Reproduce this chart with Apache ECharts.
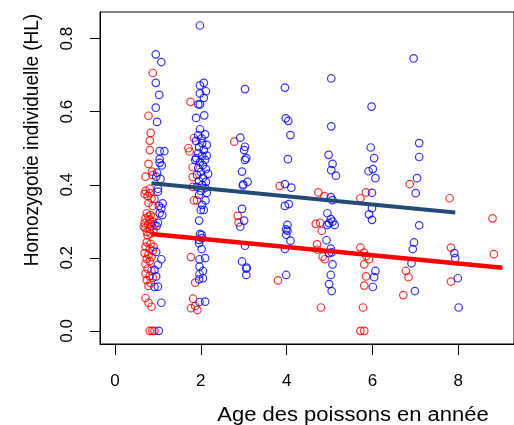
<!DOCTYPE html>
<html><head><meta charset="utf-8">
<script src="https://cdn.jsdelivr.net/npm/echarts@6/dist/echarts.min.js"></script>
<style>html,body{margin:0;padding:0;background:#fff}#c{width:514px;height:425px}</style>
</head><body><div id="c"></div>
<script>
const xTicks = [0, 2, 4, 6, 8];
const yTicks = [0, 0.2, 0.4, 0.6, 0.8];
const xTitle = 'Age des poissons en année';
const yTitle = 'Homozygotie individuelle (HL)';

const redX = [
0.88,0.78,0.83,0.81,0.81,0.78,0.86,0.71,0.88,0.81,0.71,0.81,0.76,0.85,0.69,0.92,0.78,0.88,
0.74,0.83,0.90,0.71,0.81,0.88,0.69,0.78,0.85,0.71,0.81,0.90,0.74,0.83,0.76,0.67,0.92,0.78,
0.74,0.83,0.71,0.81,0.88,0.69,0.78,0.85,0.74,0.81,0.71,0.90,
0.76,0.85,0.71,0.81,0.88,0.74,0.83,0.78,0.71,0.78,0.85,0.81,0.87,0.92,
1.76,1.84,1.71,1.74,1.81,1.81,1.81,1.84,1.91,1.77,1.87,1.82,1.77,1.87,1.92,
2.78,2.86,2.88,
3.84,3.80,
4.74,4.88,4.68,4.78,4.82,4.71,4.72,4.84,4.89,4.80,
5.72,5.85,5.72,5.80,5.86,5.92,5.81,5.85,5.81,5.78,5.72,5.81,
6.87,6.78,6.84,6.72,
7.80,7.83,7.83,
8.80,8.83];
const redY = [
0.706,0.589,0.542,0.521,0.495,0.457,0.436,0.422,0.427,0.389,0.383,0.377,0.369,0.363,0.375,0.361,0.350,0.342,
0.322,0.317,0.311,0.308,0.304,0.299,0.295,0.292,0.288,0.282,0.279,0.276,0.271,0.266,0.261,0.285,0.290,0.313,
0.243,0.238,0.230,0.224,0.219,0.213,0.208,0.202,0.197,0.191,0.183,0.230,
0.170,0.164,0.156,0.150,0.145,0.139,0.131,0.123,0.090,0.077,0.066,0,0,0,
0.627,0.528,0.500,0.491,0.448,0.421,0.394,0.357,0.357,0.202,0.132,0.088,0.062,0.068,0.057,
0.518,0.315,0.297,
0.397,0.138,
0.379,0.369,0.293,0.296,0.274,0.237,0.222,0.203,0.196,0.064,
0.363,0.379,0.228,0.214,0.205,0.196,0.182,0.149,0.124,0.064,0,0,
0.402,0.164,0.147,0.098,
0.363,0.228,0.135,
0.308,0.210];

const blueX = [
0.95,1.08,0.95,1.03,0.95,0.98,1.04,1.15,1.04,1.04,1.09,0.98,0.96,1.06,1.00,1.00,1.11,1.02,1.08,1.04,1.10,1.00,0.97,0.96,1.08,1.00,0.92,0.96,1.00,0.92,1.08,1.02,
1.98,2.07,1.98,2.12,1.98,2.07,1.98,1.94,2.08,1.89,1.98,2.10,1.94,2.02,
1.89,2.03,2.14,1.96,2.07,1.94,2.14,2.03,1.89,2.10,1.98,1.87,2.05,1.94,2.12,2.00,2.17,1.91,2.05,1.96,2.12,2.03,1.91,2.10,2.00,2.14,1.96,
2.11,2.03,2.00,2.07,1.96,2.02,1.98,1.96,2.02,1.96,2.02,1.97,2.10,1.97,2.05,1.97,2.05,1.96,1.97,2.10,
3.03,2.92,3.03,3.01,3.06,3.03,2.96,2.99,3.09,2.98,2.96,3.01,2.92,3.03,2.96,3.07,3.06,3.06,
3.96,3.98,4.04,4.09,4.03,3.96,4.11,4.05,3.96,4.02,3.99,4.02,3.99,4.09,3.96,3.99,
5.04,5.04,4.98,5.07,5.04,5.15,5.03,5.07,4.95,5.03,4.99,4.95,5.12,5.07,4.93,5.03,5.05,4.99,5.07,5.03,4.99,5.05,
5.98,5.96,6.04,6.01,5.91,6.07,5.99,5.99,5.92,5.99,6.07,6.04,6.01,
6.96,7.09,7.09,7.04,7.01,7.09,6.97,6.94,6.91,6.99,
7.91,7.93,7.99,8.01];
const blueY = [
0.757,0.736,0.679,0.646,0.611,0.572,0.492,0.492,0.470,0.460,0.453,0.433,0.422,0.416,0.389,0.381,0.349,0.342,0.336,0.322,0.317,0.296,0.287,0.216,0.196,0.181,0.167,0.149,0.121,0.120,0.077,0,
0.836,0.679,0.672,0.656,0.650,0.638,0.620,0.620,0.590,0.583,0.552,0.538,0.536,0.527,
0.520,0.514,0.509,0.503,0.495,0.487,0.480,0.479,0.473,0.468,0.462,0.468,0.454,0.446,0.443,0.435,0.430,0.427,0.419,0.410,0.408,0.399,0.394,0.391,0.383,0.378,0.372,
0.357,0.345,0.331,0.331,0.302,0.263,0.265,0.249,0.254,0.240,0.224,0.196,0.199,0.176,0.164,0.155,0.144,0.141,0.079,0.080,
0.662,0.529,0.504,0.495,0.473,0.468,0.436,0.401,0.408,0.398,0.334,0.302,0.285,0.233,0.190,0.173,0.170,0.153,
0.666,0.582,0.575,0.536,0.470,0.402,0.392,0.347,0.342,0.290,0.278,0.274,0.263,0.247,0.224,0.153,
0.691,0.560,0.482,0.457,0.440,0.425,0.366,0.358,0.322,0.306,0.295,0.290,0.290,0.299,0.248,0.225,0.215,0.213,0.182,0.153,0.128,0.109,
0.614,0.502,0.473,0.443,0.437,0.418,0.378,0.336,0.319,0.304,0.164,0.147,0.120,
0.746,0.514,0.476,0.418,0.377,0.289,0.242,0.224,0.185,0.109,
0.213,0.199,0.144,0.064];

const redLineX = [0.85, 9.03], redLineY = [0.265, 0.173];
const blueLineX = [0.85, 7.93], blueLineY = [0.404, 0.324];

const zip = (a, b) => a.map((v, i) => [v, b[i]]);
const FONT = '"Liberation Sans", Arial, sans-serif';
const chart = echarts.init(document.getElementById('c'), null, {renderer: 'canvas'});
chart.setOption({
  animation: false,
  backgroundColor: '#fff',
  grid: {left: 100, top: 12, width: 419, height: 332, show: true, borderColor: '#000', borderWidth: 1, backgroundColor: 'transparent'},
  xAxis: {
    type: 'value', min: -0.35, max: 9.3,
    axisLine: {show: true, onZero: false, lineStyle: {color: '#000', width: 1}},
    splitLine: {show: false},
    axisTick: {show: true, length: 11, customValues: xTicks, lineStyle: {color: '#000', width: 1}},
    axisLabel: {customValues: xTicks, margin: 29, fontSize: 17, color: '#000', fontFamily: FONT}
  },
  yAxis: {
    type: 'value', min: -0.036, max: 0.873,
    axisLine: {show: true, onZero: false, lineStyle: {color: '#000', width: 1}},
    splitLine: {show: false},
    axisTick: {show: true, length: 10, customValues: yTicks, lineStyle: {color: '#000', width: 1}},
    axisLabel: {customValues: yTicks, rotate: 90, margin: 24, fontSize: 17, color: '#000', fontFamily: FONT,
      formatter: v => v.toFixed(1)}
  },
  series: [
    {type: 'scatter', data: zip(redX, redY), symbol: 'circle', symbolSize: 7.5,
      itemStyle: {color: 'rgba(0,0,0,0)', borderColor: '#ff0000', borderWidth: 1.2}},
    {type: 'scatter', data: zip(blueX, blueY), symbol: 'circle', symbolSize: 7.5,
      itemStyle: {color: 'rgba(0,0,0,0)', borderColor: '#0000ff', borderWidth: 1.2}},
    {type: 'line', data: zip(blueLineX, blueLineY), symbol: 'none', lineStyle: {color: '#234b78', width: 4}},
    {type: 'line', data: zip(redLineX, redLineY), symbol: 'none', lineStyle: {color: '#ff0000', width: 4.5}}
  ],
  graphic: [
    {type: 'text', x: 353, y: 415, scaleX: 1.1, style: {text: xTitle, font: '20px ' + FONT, fill: '#000', textAlign: 'center', textVerticalAlign: 'middle'}},
    {type: 'text', x: 32, y: 140, rotation: Math.PI / 2, scaleY: 1.1, style: {text: yTitle, font: '19px ' + FONT, fill: '#000', textAlign: 'center', textVerticalAlign: 'middle'}}
  ]
});
</script></body></html>
